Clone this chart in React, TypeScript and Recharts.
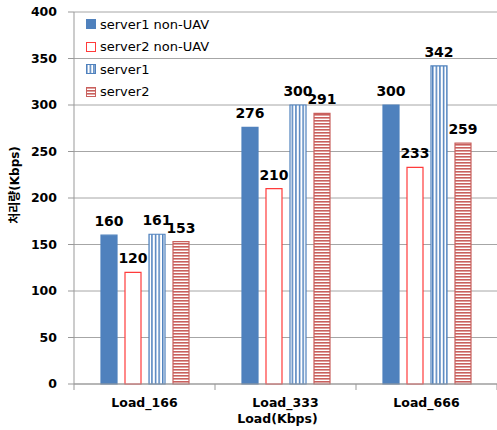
import React from 'react';
import { BarChart, Bar, XAxis, YAxis, CartesianGrid, LabelList, Legend } from 'recharts';

const categories = ['Load_166', 'Load_333', 'Load_666'];
const server1NonUav = [160, 276, 300];
const server2NonUav = [120, 210, 233];
const server1 = [161, 300, 342];
const server2 = [153, 291, 259];
const yTicks = [0, 50, 100, 150, 200, 250, 300, 350, 400];
const seriesNames = ['server1 non-UAV', 'server2 non-UAV', 'server1', 'server2'];

const data = categories.map((name, i) => ({
  name,
  s1n: server1NonUav[i],
  s2n: server2NonUav[i],
  s1: server1[i],
  s2: server2[i],
}));

const FONT = '"DejaVu Sans", "Noto Sans CJK KR", sans-serif';
const BLUE = '#4F81BD';
const RED = '#FF3B3B';
const DRED = '#C9605D';

const series = [
  { key: 's1n', name: seriesNames[0], fill: BLUE, stroke: BLUE },
  { key: 's2n', name: seriesNames[1], fill: '#FFFFFF', stroke: RED },
  { key: 's1', name: seriesNames[2], fill: 'url(#vStripe)', stroke: BLUE },
  { key: 's2', name: seriesNames[3], fill: 'url(#hStripe)', stroke: DRED },
];

const TICK_SIZE = 6;
const TICK_MARGIN = 8;

const XTick = (props: any) => {
  const { x, y, payload, index, width } = props;
  const band = (width || 423) / categories.length;
  const axisY = y - TICK_SIZE - TICK_MARGIN;
  return (
    <g>
      {index === 0 && (
        <line x1={x - band / 2} x2={x - band / 2} y1={axisY} y2={axisY + TICK_SIZE} stroke="#999" />
      )}
      <line x1={x + band / 2} x2={x + band / 2} y1={axisY} y2={axisY + TICK_SIZE} stroke="#999" />
      <text x={x} y={y} dy="0.71em" textAnchor="middle" fontFamily={FONT} fontWeight="bold" fontSize={12.5} fill="#000">
        {payload.value}
      </text>
    </g>
  );
};

const LegendContent = () => (
  <div style={{ fontFamily: FONT, fontSize: 13, color: '#000' }}>
    {series.map((s) => (
      <div key={s.key} style={{ display: 'flex', alignItems: 'center', height: 22.5 }}>
        <svg width={10} height={10} style={{ display: 'block' }}>
          <rect x={0.5} y={0.5} width={9} height={9} fill={s.fill} stroke={s.stroke} strokeWidth={1} />
        </svg>
        <span style={{ marginLeft: 4, whiteSpace: 'pre' }}>{s.name}</span>
      </div>
    ))}
  </div>
);

export default function App() {
  return (
    <div style={{ position: 'absolute', left: 0, top: 0, width: 497, height: 430, background: '#fff' }}>
      <BarChart
        width={497}
        height={430}
        data={data}
        margin={{ top: 12, right: 0, bottom: 0, left: 0 }}
        barSize={16}
        barGap={8}
      >
        <defs>
          <pattern id="vStripe" patternUnits="userSpaceOnUse" width={3.6} height={4}>
            <rect x={0} y={0} width={3.6} height={4} fill="#FFFFFF" />
            <rect x={0} y={0} width={1.5} height={4} fill={BLUE} />
          </pattern>
          <pattern id="hStripe" patternUnits="userSpaceOnUse" width={4} height={3}>
            <rect x={0} y={0} width={4} height={3} fill="#FFFFFF" />
            <rect x={0} y={0} width={4} height={1.6} fill={DRED} />
          </pattern>
        </defs>
        <CartesianGrid vertical={false} stroke="#A6A6A6" />
        <XAxis
          dataKey="name"
          height={46}
          axisLine={{ stroke: '#999' }}
          tickLine={false}
          tickSize={TICK_SIZE}
          tickMargin={TICK_MARGIN}
          tick={<XTick />}
          interval={0}
          label={{
            content: (p: any) => {
              const vb = p.viewBox || { x: 74, y: 384, width: 423 };
              return (
                <text x={vb.x + vb.width / 2 - 8} y={vb.y + 39} textAnchor="middle" fontFamily={FONT} fontWeight="bold" fontSize={12.5} fill="#000">
                  Load(Kbps)
                </text>
              );
            },
          }}
        />
        <YAxis
          width={74}
          domain={[0, 400]}
          ticks={yTicks}
          interval={0}
          axisLine={{ stroke: '#999' }}
          tickLine={{ stroke: '#999' }}
          tickSize={6}
          tickMargin={11}
          tick={{ fontFamily: FONT, fontWeight: 'bold', fontSize: 12.5, fill: '#000' }}
          label={{
            content: (p: any) => {
              const vb = p.viewBox || { x: 0, y: 12, width: 74, height: 372 };
              const cy = vb.y + vb.height / 2 - 13;
              return (
                <text x={15} y={cy} transform={`rotate(-90 15 ${cy})`} textAnchor="middle" dominantBaseline="central" fontFamily={FONT} fontWeight="bold" fontSize={12} fill="#000">
                  처리량(Kbps)
                </text>
              );
            },
          }}
        />
        <Legend
          layout="horizontal"
          align="center"
          verticalAlign="middle"
          content={<LegendContent />}
          wrapperStyle={{ top: 13, left: 86, width: 'auto', height: 'auto' }}
        />
        {series.map((s) => (
          <Bar
            key={s.key}
            dataKey={s.key}
            name={s.name}
            fill={s.fill}
            stroke={s.stroke}
            strokeWidth={1.2}
            isAnimationActive={false}
          >
            <LabelList
              dataKey={s.key}
              position="top"
              offset={9}
              style={{ fontFamily: FONT, fontWeight: 'bold', fontSize: 14, fill: '#000' }}
            />
          </Bar>
        ))}
      </BarChart>
    </div>
  );
}
